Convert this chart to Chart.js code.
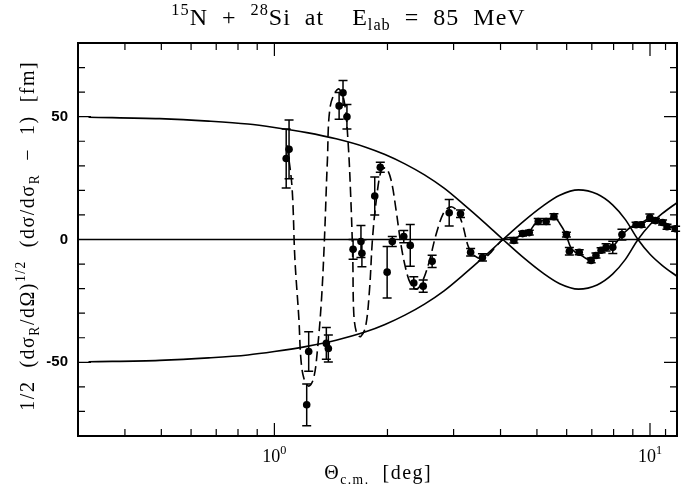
<!DOCTYPE html>
<html>
<head>
<meta charset="utf-8">
<script src="https://cdn.jsdelivr.net/npm/chart.js@4.4.1/dist/chart.umd.min.js"></script>
<style>
    html, body { margin: 0; padding: 0; background: #fff; }
    #wrap { width: 698px; height: 486px; position: relative; }
</style>
</head>
<body>
<div id="wrap"><canvas id="chart"></canvas></div>
<script>
// Measured points: theta (c.m., deg), value [fm], error
const dataTheta = [1.075, 1.094, 1.219, 1.234, 1.375, 1.392, 1.487, 1.523, 1.56, 1.62,
    1.70, 1.71, 1.85, 1.914, 1.996, 2.06, 2.21, 2.30, 2.35, 2.49,
    2.63, 2.92, 3.13, 3.33, 3.58, 4.34, 4.58, 4.77, 5.04, 5.29,
    5.55, 5.99, 6.10, 6.48, 6.97, 7.18, 7.41, 7.64, 7.96, 8.42,
    9.18, 9.48, 9.99, 10.34, 10.8, 11.1, 11.7];
const dataValue = [33.0, 36.7, -67.3, -45.6, -42.3, -44.4, 54.4, 59.7, 50.0, -4.0,
    -0.8, -5.6, 17.7, 29.4, -13.3, -0.8, 1.2, -2.4, -17.7, -19.0,
    -8.9, 10.9, 10.5, -5.2, -7.3, -0.4, 2.4, 2.8, 7.3, 7.3,
    9.3, 2.0, -4.8, -5.2, -8.5, -6.5, -4.4, -3.2, -3.2, 2.0,
    6.0, 6.0, 8.9, 7.7, 6.9, 5.2, 4.4];
const dataError = [12, 12, 8.5, 8, 6.5, 5.5, 5.4, 5, 5, 4,
    6.5, 5.5, 7.7, 2, 10.5, 2, 2.5, 8.5, 2.5, 2.5,
    2.5, 5.4, 1.5, 1.5, 1.5, 1, 1, 1, 1.2, 1.2,
    1.2, 1, 1.5, 1, 1, 1, 1, 1.5, 2.5, 2.2,
    1, 1, 1.5, 1, 1, 1, 1];

// Fit curve (dashed)
const fitTheta = [1.081, 1.114, 1.134, 1.162, 1.176, 1.198, 1.234, 1.272, 1.303, 1.335,
    1.359, 1.384, 1.409, 1.478, 1.533, 1.57, 1.598, 1.617, 1.627, 1.657,
    1.697, 1.749, 1.792, 1.824, 1.868, 1.926, 1.984, 2.045, 2.108, 2.172,
    2.239, 2.306, 2.392, 2.481, 2.585, 2.694, 2.831, 2.951, 3.06, 3.17,
    3.29, 3.43, 3.58, 3.73, 3.89, 4.06, 4.23, 4.39, 4.58, 4.77,
    4.95, 5.16, 5.35, 5.55, 5.75, 5.96, 6.15, 6.33, 6.57, 6.85,
    7.10, 7.36, 7.68, 7.96, 8.25, 8.55, 8.92, 9.30, 9.70, 10.06,
    10.49, 10.9, 11.3, 11.8];
const fitValue = [38.3, 21.4, -8.1, -32.3, -48.4, -56.5, -59.7, -56.5, -44.4, -24.2,
    0, 32.3, 54.4, 61.3, 56.5, 40.3, 16.1, -8.1, -30.2, -38.3,
    -39.5, -35.5, -20.2, 0, 16.1, 28.2, 29.0, 24.2, 12.1, -2.0,
    -12.1, -18.1, -20.2, -16.9, -8.9, 2.0, 11.3, 13.3, 11.7, 6.0,
    -3.2, -6.9, -7.7, -6.0, -2.8, 0, 0.8, 0.8, 2.0, 3.2,
    6.5, 7.7, 8.1, 9.3, 6.5, 2.4, -3.2, -5.2, -6.5, -8.1,
    -7.3, -4.8, -3.2, -2.8, 0, 2.8, 5.2, 6.0, 7.7, 8.9,
    7.7, 6.9, 5.2, 4.0];

// Envelope curves (solid)
const envTheta = [0.32, 0.495, 0.668, 0.85, 1.0, 1.22, 1.46, 1.75, 1.97, 2.225,
    2.51, 2.83, 3.19, 3.60, 4.06, 4.58, 5.17, 5.75, 6.45, 7.23,
    7.95, 8.6, 9.29, 10.0, 10.77, 11.8];
const envUpper = [49.8, 49.2, 48.2, 47.0, 45.6, 43.5, 41.0, 37.6, 34.6, 30.8,
    26.3, 20.9, 14.3, 7.3, 0, -7.1, -13.5, -18.0, -20.2, -18.5,
    -14.1, -8.1, 0, 6.0, 10.5, 15.0];
const envLower = [-49.8, -49.2, -48.2, -47.0, -45.6, -43.5, -41.0, -37.6, -34.6, -30.8,
    -26.3, -20.9, -14.3, -7.3, 0, 7.1, 13.5, 18.0, 20.2, 18.5,
    14.1, 8.1, 0, -6.0, -10.5, -15.0];

// Axis ticks
const xMajorTicks = [1, 10];
const xMajorExp = ['0', '1'];
const xMinorTicks = [0.4, 0.5, 0.6, 0.7, 0.8, 0.9, 2, 3, 4, 5, 6, 7, 8, 9, 11];
const yMajorTicks = [-50, 0, 50];
const yMajorLabels = ['-50', '0', '50'];
const yMinorTicks = [-70, -60, -40, -30, -20, -10, 10, 20, 30, 40, 60, 70];

const toXY = (xs, ys) => xs.map((x, i) => ({ x: x, y: ys[i] }));

// text with sub/superscripts; runs = [{t, k}] where k = 'sup' | 'sub'
function runSize(r, size) { return r.k ? size * 0.68 : size; }
function richWidth(ctx, runs, size, family, sp) {
    let w = 0;
    runs.forEach(r => {
        ctx.font = `${runSize(r, size)}px ${family}`;
        for (const ch of r.t) w += ctx.measureText(ch).width + sp;
    });
    return w - sp;
}
function drawRich(ctx, runs, cx, cy, size, family, sp = 0) {
    let x = cx - richWidth(ctx, runs, size, family, sp) / 2;
    ctx.textBaseline = 'middle';
    ctx.textAlign = 'left';
    runs.forEach(r => {
        let dy = 0;
        if (r.k === 'sup') dy = -size * 0.36;
        if (r.k === 'sub') dy = size * 0.3;
        ctx.font = `${runSize(r, size)}px ${family}`;
        for (const ch of r.t) {
            ctx.fillText(ch, x, cy + dy);
            x += ctx.measureText(ch).width + sp;
        }
    });
}

const framePlugin = {
    id: 'framePlugin',
    afterDatasetsDraw(chart) {
        const { ctx, chartArea: a, scales } = chart;
        const xs = scales.x, ys = scales.y;
        ctx.save();
        ctx.strokeStyle = '#000';
        // error bars
        ctx.lineWidth = 1.5;
        ctx.beginPath();
        dataTheta.forEach((t, i) => {
            const px = xs.getPixelForValue(t);
            const top = ys.getPixelForValue(dataValue[i] + dataError[i]);
            const bot = ys.getPixelForValue(dataValue[i] - dataError[i]);
            ctx.moveTo(px, top); ctx.lineTo(px, bot);
            ctx.moveTo(px - 4.5, top); ctx.lineTo(px + 4.5, top);
            ctx.moveTo(px - 4.5, bot); ctx.lineTo(px + 4.5, bot);
        });
        ctx.stroke();
        // zero line
        ctx.lineWidth = 1.5;
        const y0 = ys.getPixelForValue(0);
        ctx.beginPath();
        ctx.moveTo(a.left, y0); ctx.lineTo(a.right, y0);
        ctx.stroke();
        // frame
        ctx.lineWidth = 2;
        ctx.strokeRect(a.left, a.top, a.right - a.left, a.bottom - a.top);
        // ticks (inward, all four sides)
        ctx.lineWidth = 1.2;
        ctx.beginPath();
        const xt = (v, len) => {
            const px = xs.getPixelForValue(v);
            ctx.moveTo(px, a.bottom); ctx.lineTo(px, a.bottom - len);
            ctx.moveTo(px, a.top); ctx.lineTo(px, a.top + len);
        };
        const yt = (v, len) => {
            const py = ys.getPixelForValue(v);
            ctx.moveTo(a.left, py); ctx.lineTo(a.left + len, py);
            ctx.moveTo(a.right, py); ctx.lineTo(a.right - len, py);
        };
        xMajorTicks.forEach(v => xt(v, 13));
        xMinorTicks.forEach(v => xt(v, 7));
        yMajorTicks.forEach(v => yt(v, 13));
        yMinorTicks.forEach(v => yt(v, 7));
        ctx.stroke();

        // tick labels
        ctx.fillStyle = '#000';
        ctx.font = 'bold 15px "Liberation Sans", Arial, sans-serif';
        ctx.textAlign = 'right';
        ctx.textBaseline = 'middle';
        yMajorTicks.forEach((v, i) => {
            ctx.fillText(yMajorLabels[i], a.left - 10, ys.getPixelForValue(v));
        });
        const serif = '"Liberation Serif", "DejaVu Serif", serif';
        xMajorTicks.forEach((v, i) => {
            drawRich(ctx, [{ t: '10' }, { t: xMajorExp[i], k: 'sup' }],
                xs.getPixelForValue(v), a.bottom + 21, 18, serif);
        });

        // title
        drawRich(ctx, [
            { t: '15', k: 'sup' }, { t: 'N  +  ' }, { t: '28', k: 'sup' },
            { t: 'Si  at    E' }, { t: 'lab', k: 'sub' }, { t: '  =  85  MeV' }
        ], 348, 19, 24, serif, 1);

        // x title
        drawRich(ctx, [{ t: 'Θ' }, { t: 'c.m.', k: 'sub' }, { t: '  [deg]' }],
            (a.left + a.right) / 2, a.bottom + 38, 20, serif, 1.5);

        // y title (rotated)
        ctx.translate(29, (a.top + a.bottom) / 2 - 3);
        ctx.rotate(-Math.PI / 2);
        drawRich(ctx, [
            { t: '1/2  (dσ' }, { t: 'R', k: 'sub' }, { t: '/dΩ)' }, { t: '1/2', k: 'sup' },
            { t: '  (dσ/dσ' }, { t: 'R', k: 'sub' }, { t: '  −  1)  [fm]' }
        ], 0, 0, 20, serif, 1.5);
        ctx.restore();
    }
};

new Chart(document.getElementById('chart'), {
    type: 'scatter',
    data: {
        datasets: [
            {
                data: toXY(envTheta, envUpper),
                showLine: true, borderColor: '#000', borderWidth: 1.6,
                pointRadius: 0, cubicInterpolationMode: 'monotone'
            },
            {
                data: toXY(envTheta, envLower),
                showLine: true, borderColor: '#000', borderWidth: 1.6,
                pointRadius: 0, cubicInterpolationMode: 'monotone'
            },
            {
                data: toXY(fitTheta, fitValue),
                showLine: true, borderColor: '#000', borderWidth: 1.6,
                pointRadius: 0, tension: 0.35,
                segment: {
                    borderDash: c => (c.p0.parsed.x < 4.0 ? [10, 5] : [])
                }
            },
            {
                data: toXY(dataTheta, dataValue),
                showLine: false, pointRadius: 3.8,
                backgroundColor: '#000', borderColor: '#000', borderWidth: 0
            }
        ]
    },
    options: {
        responsive: true,
        maintainAspectRatio: false,
        animation: false,
        layout: { padding: { left: 78, right: 21, top: 43, bottom: 50 } },
        plugins: {
            legend: { display: false },
            tooltip: { enabled: false }
        },
        scales: {
            x: { type: 'logarithmic', min: 0.32, max: 11.8, display: false },
            y: { type: 'linear', min: -80, max: 80, display: false }
        }
    },
    plugins: [framePlugin]
});
</script>
</body>
</html>
